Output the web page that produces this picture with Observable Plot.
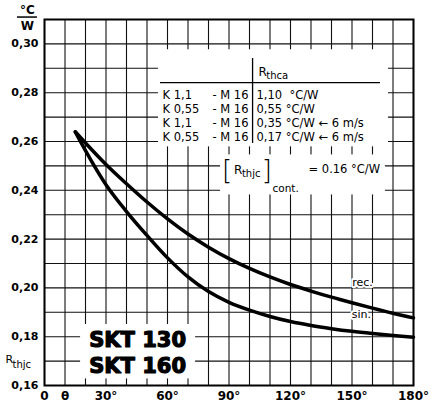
<!DOCTYPE html>
<html>
<head>
<meta charset="utf-8">
<script src="https://cdn.jsdelivr.net/npm/d3@7"></script>
<script src="https://cdn.jsdelivr.net/npm/@observablehq/plot@0.6"></script>
<style>
  html, body { margin: 0; padding: 0; background: white; }
  svg { display: block; }
</style>
</head>
<body>
<div id="chart"></div>
<script>
// ---- data ----
const theta = [15, 20, 30, 40, 50, 60, 70, 80, 90, 100, 110, 120, 130, 140, 150, 160, 170, 180];
const recValues = [0.264, 0.2594, 0.2506, 0.2427, 0.2352, 0.2283, 0.2221, 0.2167, 0.2120, 0.2080, 0.2045, 0.2014, 0.1987, 0.1962, 0.1939, 0.1917, 0.1896, 0.1877];
const sinValues = [0.264, 0.2563, 0.2423, 0.2313, 0.2215, 0.2123, 0.2045, 0.1985, 0.1941, 0.1909, 0.1883, 0.1862, 0.1846, 0.1833, 0.1822, 0.1813, 0.1805, 0.1798];

const xTicks = [0, 10, 30, 60, 90, 120, 150, 180];
const xTickLabels = ["0", "θ", "30°", "60°", "90°", "120°", "150°", "180°"];
const yTicks = [0.16, 0.18, 0.20, 0.22, 0.24, 0.26, 0.28, 0.30];
const yTickLabels = ["0,16", "0,18", "0,20", "0,22", "0,24", "0,26", "0,28", "0,30"];

const tableKeys = ["K 1,1", "K 0,55", "K 1,1", "K 0,55"];
const tableMounts = ["- M 16", "- M 16", "- M 16", "- M 16"];
const tableValues = ["1,10  °C/W", "0,55 °C/W", "0,35 °C/W ← 6 m/s", "0,17 °C/W ← 6 m/s"];
const models = ["SKT 130", "SKT 160"];

// ---- build tables ----
const curves = [
  ...theta.map((t, i) => ({theta: t, v: recValues[i], series: "rec."})),
  ...theta.map((t, i) => ({theta: t, v: sinValues[i], series: "sin."}))
];
const gridX = d3.range(0, 19).map(d => d * 10);
const gridY = d3.range(16, 32).map(d => d / 100);

// layout (data-space anchors for annotations)
const rowTop = 0.2789, rowStep = 0.00575;
const rows = tableKeys.map((k, i) => ({key: k, mount: tableMounts[i], value: tableValues[i], y: rowTop - i * rowStep}));
const font = "DejaVu Sans";

const chart = Plot.plot({
  width: 437, height: 409,
  marginLeft: 44, marginRight: 24, marginTop: 19, marginBottom: 24,
  style: {fontFamily: font, fontSize: "11px", color: "black", background: "white"},
  x: {domain: [0, 180]},
  y: {domain: [0.16, 0.31]},
  marks: [
    Plot.ruleX(gridX, {stroke: "#111", strokeWidth: 1.1}),
    Plot.ruleY(gridY, {stroke: "#111", strokeWidth: 1.1}),
    // white panels behind annotations
    Plot.rect([0], {x1: 55.6, x2: 167.8, y1: 0.2578, y2: 0.2976, fill: "white"}),
    Plot.rect([0], {x1: 85.9, x2: 166.3, y1: 0.2381, y2: 0.2545, fill: "white"}),
    Plot.rect([0], {x1: 17.6, x2: 73.7, y1: 0.1627, y2: 0.1850, fill: "white"}),
    Plot.frame({stroke: "black", strokeWidth: 2}),
    Plot.axisY(yTicks, {tickSize: 0, tickPadding: 6, label: null, fontWeight: "bold", fontSize: 11,
      tickFormat: d => yTickLabels[yTicks.indexOf(d)]}),
    Plot.axisX(xTicks, {tickSize: 0, tickPadding: 6, label: null, fontWeight: "bold", fontSize: 12,
      tickFormat: d => xTickLabels[xTicks.indexOf(d)]}),
    // curves
    Plot.line(curves, {x: "theta", y: "v", z: "series", stroke: "black", strokeWidth: 3.5, curve: "monotone-x"}),
    // curve labels
    Plot.text(["rec."], {x: 155.1, y: 0.2021, text: d => d, fontSize: 11, stroke: "white", strokeWidth: 4, fill: "black"}),
    Plot.text(["sin."], {x: 154.6, y: 0.1890, text: d => d, fontSize: 11, stroke: "white", strokeWidth: 4, fill: "black"}),
    // table
    Plot.ruleY([0.2841], {x1: 56.6, x2: 163.9, stroke: "black", strokeWidth: 1.3}),
    Plot.ruleX([101.5], {y1: 0.2592, y2: 0.2940, stroke: "black", strokeWidth: 1.3}),
    Plot.text(["R"], {x: 104.4, y: 0.2886, text: d => d, textAnchor: "start", fontSize: 12}),
    Plot.text(["thca"], {x: 108.2, y: 0.2868, text: d => d, textAnchor: "start", fontSize: 10}),
    Plot.text(rows, {x: 57.6, y: "y", text: "key", textAnchor: "start", fontSize: 11.5}),
    Plot.text(rows, {x: 99.5, y: "y", text: "mount", textAnchor: "end", fontSize: 11.5}),
    Plot.text(rows, {x: 103.4, y: "y", text: "value", textAnchor: "start", fontSize: 11.5}),
    // [Rthjc]cont. = 0.16 °C/W
    Plot.text(["["], {x: 91.6, y: 0.2482, text: d => d, textAnchor: "end", fontSize: 26, fontWeight: 200}),
    Plot.text(["R"], {x: 92.4, y: 0.2484, text: d => d, textAnchor: "start", fontSize: 12}),
    Plot.text(["thjc"], {x: 96.3, y: 0.2468, text: d => d, textAnchor: "start", fontSize: 10}),
    Plot.text(["]"], {x: 106.0, y: 0.2482, text: d => d, textAnchor: "start", fontSize: 26, fontWeight: 200}),
    Plot.text(["cont."], {x: 111.2, y: 0.2408, text: d => d, textAnchor: "start", fontSize: 10.5}),
    Plot.text(["= 0.16 °C/W"], {x: 128.8, y: 0.2484, text: d => d, textAnchor: "start", fontSize: 11.5}),
    // model names
    Plot.text(models, {x: 45.4, y: (d, i) => 0.1787 - i * 0.0110, text: d => d, fontSize: 21, fontWeight: "bold",
      fontFamily: font, fill: "black", stroke: "black", strokeWidth: 1.2}),
    // axis unit labels
    Plot.text(["°C"], {x: -8.3, y: 0.3137, text: d => d, fontSize: 12, fontWeight: "bold"}),
    Plot.text(["W"], {x: -8.3, y: 0.3073, text: d => d, fontSize: 12, fontWeight: "bold"}),
    Plot.text(["R"], {x: -19.0, y: 0.1705, text: d => d, textAnchor: "start", fontSize: 11}),
    Plot.text(["thjc"], {x: -15.6, y: 0.1686, text: d => d, textAnchor: "start", fontSize: 10})
  ]
});

// fraction bar of the unit label, placed with the chart's own scales
const sx = chart.scale("x"), sy = chart.scale("y");
d3.select(chart).append("line")
  .attr("x1", sx.apply(-13.2)).attr("x2", sx.apply(-3.4))
  .attr("y1", sy.apply(0.3108)).attr("y2", sy.apply(0.3108))
  .attr("stroke", "black").attr("stroke-width", 1.5);

document.getElementById("chart").append(chart);
</script>
</body>
</html>
